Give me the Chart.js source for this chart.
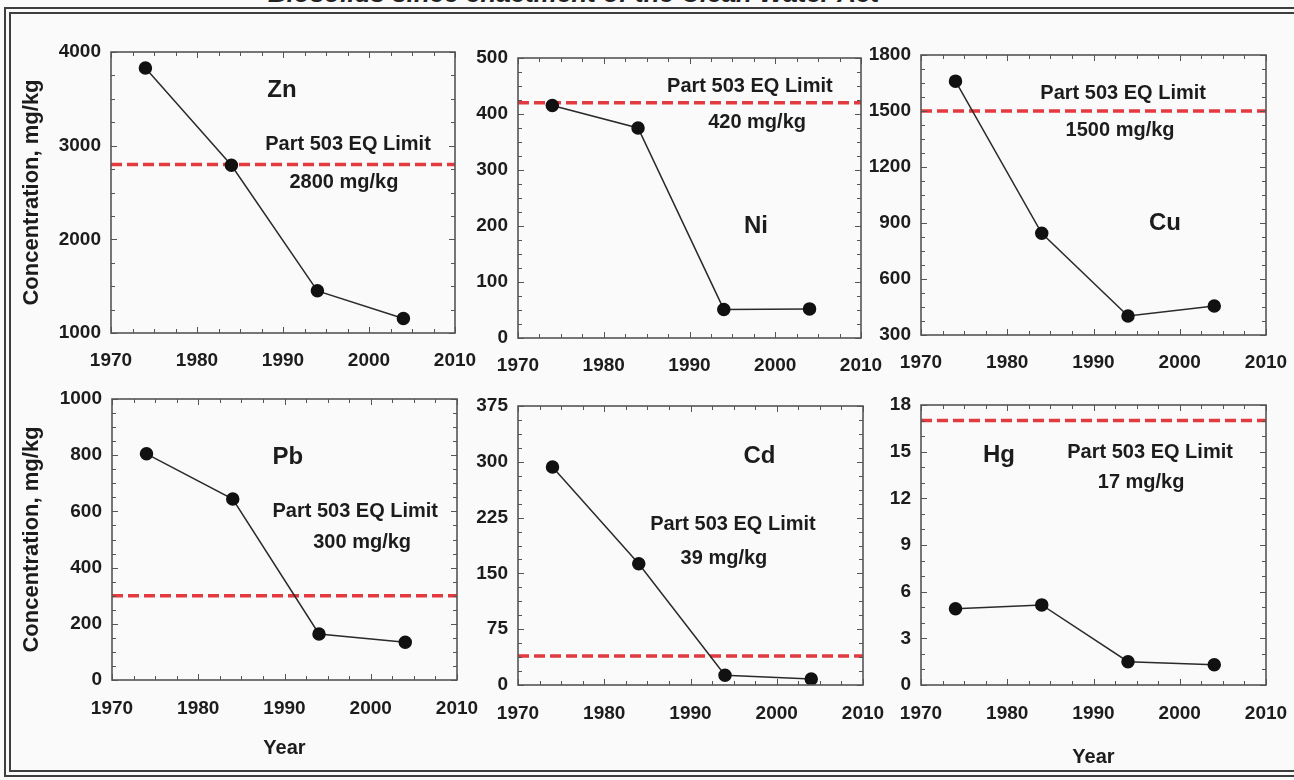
<!DOCTYPE html>
<html>
<head>
<meta charset="utf-8">
<script src="https://cdn.jsdelivr.net/npm/chart.js@4.4.1/dist/chart.umd.min.js"></script>
<style>
  html, body { margin: 0; padding: 0; }
  body { width: 1294px; height: 780px; overflow: hidden; background: #fafafa; position: relative; }
  #title { position: absolute; left: 268px; top: -22px; font: italic bold 26px "Liberation Sans", Arial, sans-serif; color: #222; white-space: nowrap; }
  #frame { position: absolute; left: 4px; top: 7px; width: 1320px; height: 756px; border: 7px double #3e3e3e; }
  .panel { position: absolute; }
</style>
</head>
<body>
<div id="title">Biosolids since enactment of the Clean Water Act</div>
<div id="frame"></div>
<script>
// data
const metals = ['Zn', 'Ni', 'Cu', 'Pb', 'Cd', 'Hg'];
const years = [1974, 1984, 1994, 2004];
const yearTicks = [1970, 1980, 1990, 2000, 2010];
const znValues = [3830, 2790, 1450, 1155];
const niValues = [415, 375, 51, 52];
const cuValues = [1660, 845, 402, 455];
const pbValues = [805, 644, 164, 134];
const cdValues = [293, 163, 13, 8];
const hgValues = [4.9, 5.15, 1.5, 1.3];
const limitValues = [2800, 420, 1500, 300, 39, 17];
const yMin = [1000, 0, 300, 0, 0, 0];
const yMax = [4000, 500, 1800, 1000, 375, 18];
const yStep = [1000, 100, 300, 200, 75, 3];
const yMinor = [250, 25, 75, 50, 18.75, 1];
const allValues = [znValues, niValues, cuValues, pbValues, cdValues, hgValues];

const FONT = '"Liberation Sans", Arial, sans-serif';
const RED = 'rgb(226,58,62)';

// layout: plot rectangle [left, top, right, bottom], text spots as fractions of the plot area
const panels = [
  { rect: [111, 52, 455, 333], row: 0, col: 0, name: [0.497, 0.135], lim: [0.689, 0.33], val: [0.677, 0.466] },
  { rect: [518, 58, 861, 338], row: 0, col: 1, name: [0.694, 0.60], lim: [0.676, 0.10], val: [0.697, 0.23] },
  { rect: [921, 55, 1266, 335], row: 0, col: 2, name: [0.707, 0.60], lim: [0.586, 0.136], val: [0.577, 0.27] },
  { rect: [112, 399, 457, 680], row: 1, col: 0, name: [0.51, 0.206], lim: [0.705, 0.40], val: [0.725, 0.51] },
  { rect: [518, 406, 863, 685], row: 1, col: 1, name: [0.70, 0.18], lim: [0.623, 0.426], val: [0.597, 0.545] },
  { rect: [921, 405, 1266, 685], row: 1, col: 2, name: [0.226, 0.18], lim: [0.664, 0.168], val: [0.638, 0.275] }
];

function framePlugin(i) {
  const p = panels[i];
  return {
    id: 'frame' + i,
    afterDatasetsDraw(chart) {
      const { ctx, chartArea: a, scales: { x, y } } = chart;
      ctx.save();
      ctx.strokeStyle = '#555';
      ctx.lineWidth = 1;
      // minor + major ticks, pointing inward on all four sides
      for (let k = 0; k <= 16; k++) {
        const v = 1970 + k * 2.5;
        const px = Math.round(x.getPixelForValue(v)) + 0.5;
        const len = k % 4 === 0 ? 6 : 4;
        ctx.beginPath();
        ctx.moveTo(px, a.bottom); ctx.lineTo(px, a.bottom - len);
        ctx.moveTo(px, a.top); ctx.lineTo(px, a.top + len);
        ctx.stroke();
      }
      const n = Math.round((yMax[i] - yMin[i]) / yMinor[i]);
      for (let k = 0; k <= n; k++) {
        const v = yMin[i] + k * yMinor[i];
        const r = (v - yMin[i]) / yStep[i];
        const len = Math.abs(r - Math.round(r)) < 1e-6 ? 6 : 4;
        const py = Math.round(y.getPixelForValue(v)) + 0.5;
        ctx.beginPath();
        ctx.moveTo(a.left, py); ctx.lineTo(a.left + len, py);
        ctx.moveTo(a.right, py); ctx.lineTo(a.right - len, py);
        ctx.stroke();
      }
      ctx.lineWidth = 1.6;
      ctx.strokeRect(a.left, a.top, a.right - a.left, a.bottom - a.top);

      const w = a.right - a.left, h = a.bottom - a.top;
      ctx.fillStyle = '#1c1c1c';
      ctx.textAlign = 'center';
      ctx.textBaseline = 'middle';
      ctx.font = 'bold 24px ' + FONT;
      ctx.fillText(metals[i], a.left + p.name[0] * w, a.top + p.name[1] * h);
      ctx.font = 'bold 20px ' + FONT;
      ctx.fillText('Part 503 EQ Limit', a.left + p.lim[0] * w, a.top + p.lim[1] * h);
      ctx.fillText(limitValues[i] + ' mg/kg', a.left + p.val[0] * w, a.top + p.val[1] * h);
      ctx.restore();
    }
  };
}

panels.forEach((p, i) => {
  const yW = p.col === 0 ? p.rect[0] - 15 : 58;
  // room for the tick label overhang (half label + tick padding), so the plot area stays where it is set
  const padTop = 30, padRight = 46;
  const xTitle = p.row === 1 && p.col !== 1;
  const xH = xTitle ? 90 : 50;
  const left = p.rect[0] - yW, top = p.rect[1] - padTop;
  const w = p.rect[2] - p.rect[0] + yW + padRight;
  const h = p.rect[3] - p.rect[1] + padTop + xH;

  const div = document.createElement('div');
  div.className = 'panel';
  div.style.left = left + 'px';
  div.style.top = top + 'px';
  const canvas = document.createElement('canvas');
  canvas.width = w;
  canvas.height = h;
  div.appendChild(canvas);
  document.body.appendChild(div);

  const tickFont = { family: FONT, size: 19, weight: 'bold' };

  new Chart(canvas, {
    type: 'line',
    data: {
      datasets: [
        {
          data: years.map((yr, k) => ({ x: yr, y: allValues[i][k] })),
          borderColor: '#2a2a2a',
          borderWidth: 1.5,
          pointRadius: 6,
          pointBackgroundColor: '#111',
          pointBorderColor: '#111',
          tension: 0
        },
        {
          data: [{ x: yearTicks[0], y: limitValues[i] }, { x: yearTicks[yearTicks.length - 1], y: limitValues[i] }],
          borderColor: RED,
          borderWidth: 3.5,
          borderDash: [11, 5],
          pointRadius: 0
        }
      ]
    },
    options: {
      responsive: false,
      animation: false,
      layout: { padding: { top: padTop, right: padRight, left: 0, bottom: 0 } },
      plugins: { legend: { display: false }, tooltip: { enabled: false } },
      scales: {
        x: {
          type: 'linear',
          min: yearTicks[0],
          max: yearTicks[yearTicks.length - 1],
          afterBuildTicks: s => { s.ticks = yearTicks.map(v => ({ value: v })); },
          afterFit: s => { s.height = xH; },
          grid: { display: false, drawTicks: false },
          border: { display: false },
          ticks: { font: tickFont, color: '#1c1c1c', padding: p.row === 0 ? 16 : 17, maxRotation: 0, callback: v => String(v) },
          title: { display: xTitle, text: 'Year', color: '#1c1c1c', font: { family: FONT, size: 20, weight: 'bold' }, padding: { bottom: p.col === 0 ? 10 : 6 } }
        },
        y: {
          type: 'linear',
          min: yMin[i],
          max: yMax[i],
          afterFit: s => { s.width = yW; },
          grid: { display: false, drawTicks: false },
          border: { display: false },
          ticks: { stepSize: yStep[i], font: tickFont, color: '#1c1c1c', padding: 10, callback: v => String(v) },
          title: { display: p.col === 0, text: 'Concentration, mg/kg', color: '#1c1c1c', font: { family: FONT, size: 22, weight: 'bold' }, padding: { top: 4 } }
        }
      }
    },
    plugins: [framePlugin(i)]
  });
});
</script>
</body>
</html>
